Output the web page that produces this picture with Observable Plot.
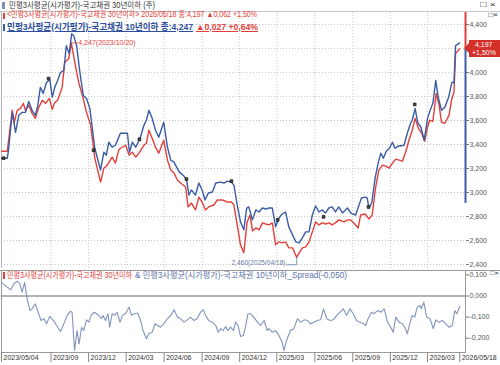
<!DOCTYPE html>
<html><head><meta charset="utf-8">
<script src="https://cdn.jsdelivr.net/npm/d3@7"></script>
<script src="https://cdn.jsdelivr.net/npm/@observablehq/plot@0.6"></script>
<style>
html,body{margin:0;padding:0;background:#fff;}
#wrap{position:relative;width:500px;height:365px;overflow:hidden;background:#fff;}
#wrap svg{position:absolute;left:0;}
.t{position:absolute;white-space:nowrap;line-height:1;transform-origin:0 50%;font-family:"Liberation Sans","Noto Sans CJK KR",sans-serif;}
.r{position:absolute;}
</style></head><body><div id="wrap"></div>
<script>
// ---------- data ----------
const titleText = "민평3사평균(시가평가)-국고채권 30년이하 (주)";
const seriesNames = ["민평3사평균(시가평가)-국고채권 30년이하", "민평3사평균(시가평가)-국고채권 10년이하"];
const lastDateLabel = "2026/05/18";
const redChange = 0.062, redPct = 1.50;
const blueChange = 0.027, bluePct = 0.64;

const redDates = ["2023-05-04","2023-05-18","2023-05-30","2023-06-04","2023-06-11","2023-06-19","2023-06-26","2023-07-01","2023-07-09","2023-07-17","2023-07-25","2023-08-02","2023-08-11","2023-08-19","2023-08-28","2023-09-04","2023-09-09","2023-09-17","2023-09-28","2023-10-04","2023-10-14","2023-10-20","2023-10-30","2023-11-07","2023-11-16","2023-11-26","2023-12-06","2023-12-16","2023-12-30","2024-01-07","2024-01-15","2024-01-27","2024-02-04","2024-02-12","2024-02-16","2024-02-29","2024-03-08","2024-03-16","2024-03-24","2024-04-01","2024-04-13","2024-04-19","2024-04-25","2024-05-03","2024-05-11","2024-05-19","2024-05-31","2024-06-09","2024-06-17","2024-06-25","2024-07-03","2024-07-11","2024-07-23","2024-07-29","2024-08-06","2024-08-16","2024-08-24","2024-09-01","2024-09-09","2024-09-17","2024-09-29","2024-10-08","2024-10-20","2024-11-01","2024-11-11","2024-11-17","2024-11-25","2024-12-03","2024-12-11","2024-12-19","2024-12-26","2025-01-01","2025-01-09","2025-01-17","2025-01-25","2025-02-02","2025-02-10","2025-02-18","2025-02-26","2025-03-06","2025-03-14","2025-03-22","2025-03-30","2025-04-08","2025-04-18","2025-04-24","2025-05-02","2025-05-10","2025-05-18","2025-05-26","2025-06-03","2025-06-11","2025-06-19","2025-06-27","2025-07-05","2025-07-13","2025-07-21","2025-07-29","2025-08-11","2025-08-19","2025-08-27","2025-09-08","2025-09-14","2025-09-20","2025-10-01","2025-10-10","2025-10-18","2025-10-26","2025-11-03","2025-11-12","2025-11-20","2025-11-28","2025-12-06","2025-12-14","2025-12-22","2025-12-30","2026-01-07","2026-01-15","2026-01-23","2026-01-30","2026-02-07","2026-02-15","2026-02-22","2026-03-01","2026-03-06","2026-03-14","2026-03-22","2026-03-29","2026-04-04","2026-04-12","2026-04-22","2026-04-29","2026-05-04","2026-05-08","2026-05-18"];
const redValues = [3.344,3.344,3.685,3.585,3.685,3.701,3.743,3.685,3.726,3.660,3.618,3.710,3.768,3.743,3.784,3.693,3.743,3.768,3.876,4.083,4.116,4.247,4.058,3.917,3.809,3.668,3.560,3.286,3.087,3.203,3.228,3.295,3.245,3.353,3.369,3.394,3.311,3.336,3.295,3.328,3.394,3.411,3.519,3.452,3.378,3.328,3.436,3.270,3.187,3.162,3.104,3.079,3.046,2.880,2.913,2.855,2.962,2.921,2.855,2.880,2.896,2.938,2.938,2.921,2.921,2.896,2.730,2.564,2.498,2.755,2.813,2.680,2.705,2.689,2.747,2.738,2.730,2.747,2.564,2.589,2.581,2.589,2.539,2.539,2.460,2.498,2.539,2.547,2.589,2.672,2.755,2.730,2.747,2.738,2.747,2.730,2.747,2.772,2.755,2.772,2.772,2.730,2.705,2.813,2.821,2.780,2.813,3.037,3.187,3.228,3.220,3.203,3.245,3.278,3.270,3.261,3.336,3.436,3.519,3.618,3.535,3.494,3.427,3.544,3.602,3.593,3.826,3.726,3.585,3.577,3.643,3.784,3.834,4.158,4.197];

const blueDates = ["2023-05-04","2023-05-18","2023-05-21","2023-05-30","2023-06-07","2023-06-15","2023-06-23","2023-07-01","2023-07-09","2023-07-17","2023-07-25","2023-07-31","2023-08-06","2023-08-13","2023-08-21","2023-08-29","2023-09-04","2023-09-10","2023-09-17","2023-09-24","2023-10-02","2023-10-08","2023-10-15","2023-10-21","2023-10-26","2023-11-02","2023-11-10","2023-11-18","2023-11-26","2023-12-04","2023-12-16","2023-12-30","2024-01-07","2024-01-13","2024-01-19","2024-01-27","2024-02-04","2024-02-16","2024-03-04","2024-03-09","2024-03-16","2024-03-24","2024-04-03","2024-04-13","2024-04-19","2024-04-25","2024-05-03","2024-05-11","2024-05-19","2024-05-31","2024-06-09","2024-06-17","2024-06-25","2024-07-01","2024-07-08","2024-07-19","2024-07-25","2024-07-31","2024-08-06","2024-08-16","2024-08-24","2024-09-01","2024-09-08","2024-09-16","2024-09-26","2024-10-04","2024-10-16","2024-10-24","2024-11-01","2024-11-11","2024-11-17","2024-11-25","2024-12-03","2024-12-11","2024-12-18","2024-12-23","2025-01-01","2025-01-09","2025-01-17","2025-01-25","2025-02-02","2025-02-10","2025-02-18","2025-02-26","2025-03-06","2025-03-14","2025-03-22","2025-03-30","2025-04-08","2025-04-16","2025-04-24","2025-05-02","2025-05-10","2025-05-18","2025-05-26","2025-06-03","2025-06-11","2025-06-19","2025-06-27","2025-07-05","2025-07-13","2025-07-21","2025-07-29","2025-08-07","2025-08-19","2025-08-27","2025-09-01","2025-09-08","2025-09-16","2025-09-22","2025-10-01","2025-10-06","2025-10-10","2025-10-17","2025-10-25","2025-11-02","2025-11-08","2025-11-14","2025-11-21","2025-11-29","2025-12-06","2025-12-12","2025-12-20","2026-01-03","2026-01-11","2026-01-19","2026-01-23","2026-01-30","2026-02-05","2026-02-13","2026-02-21","2026-03-01","2026-03-09","2026-03-14","2026-03-21","2026-03-27","2026-04-04","2026-04-12","2026-04-21","2026-04-29","2026-05-04","2026-05-08","2026-05-18"];
const blueValues = [3.286,3.286,3.353,3.668,3.502,3.643,3.668,3.668,3.759,3.685,3.643,3.726,3.876,3.826,3.917,3.942,3.793,3.876,3.934,4.000,4.017,4.224,4.158,4.324,4.307,4.224,4.000,3.809,3.784,3.701,3.369,3.187,3.336,3.311,3.419,3.378,3.394,3.494,3.494,3.336,3.419,3.378,3.444,3.560,3.602,3.685,3.618,3.519,3.461,3.585,3.378,3.270,3.253,3.212,3.170,3.137,3.112,2.979,3.021,2.979,3.079,3.021,2.938,2.996,3.004,3.079,3.087,3.079,3.095,3.087,3.062,2.896,2.755,2.689,2.871,2.880,2.772,2.855,2.838,2.871,2.863,2.871,2.871,2.714,2.788,2.821,2.838,2.714,2.647,2.589,2.581,2.622,2.672,2.672,2.813,2.888,2.838,2.855,2.830,2.871,2.880,2.838,2.880,2.830,2.871,2.830,2.821,2.813,2.896,2.954,2.962,2.954,2.871,2.913,3.120,3.253,3.328,3.286,3.344,3.369,3.419,3.369,3.386,3.394,3.494,3.577,3.602,3.701,3.585,3.544,3.436,3.618,3.701,3.743,3.934,3.793,3.685,3.710,3.793,3.917,3.917,4.224,4.247];

const spreadDates = ["2023-05-04","2023-05-18","2023-05-26","2023-06-03","2023-06-11","2023-06-17","2023-06-23","2023-06-29","2023-07-05","2023-07-12","2023-07-17","2023-07-25","2023-08-02","2023-08-08","2023-08-15","2023-08-21","2023-08-29","2023-09-08","2023-09-17","2023-09-24","2023-10-02","2023-10-10","2023-10-18","2023-10-22","2023-10-28","2023-11-03","2023-11-08","2023-11-14","2023-11-19","2023-11-26","2023-12-02","2023-12-07","2023-12-15","2023-12-26","2024-01-01","2024-01-05","2024-01-11","2024-01-17","2024-01-21","2024-01-27","2024-02-02","2024-02-08","2024-02-15","2024-02-21","2024-02-29","2024-03-08","2024-03-14","2024-03-20","2024-03-29","2024-04-05","2024-04-11","2024-04-19","2024-04-25","2024-05-03","2024-05-10","2024-05-17","2024-05-23","2024-05-31","2024-06-09","2024-06-17","2024-06-25","2024-07-03","2024-07-11","2024-07-19","2024-07-27","2024-08-04","2024-08-12","2024-08-20","2024-08-28","2024-09-04","2024-09-09","2024-09-17","2024-09-26","2024-10-04","2024-10-10","2024-10-16","2024-10-22","2024-10-28","2024-11-02","2024-11-09","2024-11-16","2024-11-21","2024-11-27","2024-12-03","2024-12-10","2024-12-15","2024-12-21","2024-12-27","2025-01-04","2025-01-13","2025-01-21","2025-01-29","2025-02-06","2025-02-10","2025-02-18","2025-02-26","2025-03-06","2025-03-14","2025-03-18","2025-03-26","2025-04-03","2025-04-11","2025-04-20","2025-04-28","2025-05-06","2025-05-14","2025-05-22","2025-05-30","2025-06-07","2025-06-15","2025-06-22","2025-06-30","2025-07-08","2025-07-16","2025-07-24","2025-08-01","2025-08-09","2025-08-17","2025-08-25","2025-09-02","2025-09-10","2025-09-18","2025-09-27","2025-10-02","2025-10-08","2025-10-16","2025-10-22","2025-10-31","2025-11-08","2025-11-16","2025-11-24","2025-12-02","2025-12-08","2025-12-14","2025-12-22","2025-12-30","2026-01-05","2026-01-11","2026-01-17","2026-01-23","2026-01-29","2026-02-04","2026-02-11","2026-02-14","2026-02-20","2026-02-27","2026-03-07","2026-03-15","2026-03-21","2026-03-29","2026-04-06","2026-04-14","2026-04-22","2026-04-30","2026-05-06","2026-05-11","2026-05-18"];
const spreadValues = [0.065,0.042,0.029,0.058,0.070,0.061,0.018,0.065,-0.013,-0.069,-0.061,-0.037,-0.084,-0.116,-0.108,-0.132,-0.097,-0.119,-0.148,-0.168,-0.132,-0.092,-0.072,-0.077,-0.258,-0.164,-0.227,-0.148,-0.164,-0.113,-0.124,-0.092,-0.077,-0.092,-0.108,-0.092,-0.116,-0.084,-0.148,-0.084,-0.092,-0.077,-0.124,-0.092,-0.082,-0.053,-0.092,-0.084,-0.082,-0.116,-0.164,-0.203,-0.179,-0.172,-0.132,-0.140,-0.148,-0.132,-0.108,-0.092,-0.065,-0.100,-0.108,-0.124,-0.113,-0.100,-0.116,-0.108,-0.077,-0.065,-0.092,-0.116,-0.124,-0.140,-0.172,-0.155,-0.164,-0.145,-0.164,-0.148,-0.164,-0.124,-0.140,-0.192,-0.187,-0.148,-0.084,-0.084,-0.100,-0.124,-0.140,-0.116,-0.164,-0.155,-0.172,-0.164,-0.187,-0.219,-0.258,-0.203,-0.164,-0.155,-0.108,-0.124,-0.113,-0.116,-0.132,-0.124,-0.116,-0.113,-0.061,-0.108,-0.116,-0.113,-0.092,-0.077,-0.061,-0.092,-0.061,-0.084,-0.116,-0.124,-0.132,-0.140,-0.108,-0.077,-0.084,-0.069,-0.077,-0.061,-0.124,-0.148,-0.172,-0.100,-0.124,-0.132,-0.148,-0.179,-0.132,-0.092,-0.100,-0.053,-0.045,-0.061,-0.029,-0.100,-0.108,-0.155,-0.113,-0.124,-0.116,-0.132,-0.148,-0.140,-0.069,-0.084,-0.050];

const markerDates = ["2023-05-09","2023-08-26","2023-12-13","2024-04-02","2024-07-25","2024-11-11","2025-03-03","2025-06-22","2025-10-09","2026-01-29"];
const markerValues = [3.286,3.950,3.353,3.444,3.112,3.095,2.772,2.797,2.880,3.734];

const yTicks = [2.4,2.6,2.8,3.0,3.2,3.4,3.6,3.8,4.0,4.2,4.4];
const spreadTicks = [0.1,0,-0.1,-0.2];
const xTickDates = ["2023-05-04","2023-09-01","2023-12-01","2024-03-01","2024-06-01","2024-09-01","2024-12-01","2025-03-01","2025-06-01","2025-09-01","2025-12-01","2026-03-01","2026-05-18"];
const xTickLabels = ["2023/05/04","2023/09","2023/12","2024/03","2024/06","2024/09","2024/12","2025/03","2025/06","2025/09","2025/12","2026/03","2026/05/18"];
const gridDates = ["2023-09-01","2023-12-01","2024-03-01","2024-06-01","2024-09-01","2024-12-01","2025-03-01","2025-06-01","2025-09-01","2025-12-01","2026-03-01"];
const xStart = "2023-05-04", xEnd = "2026-06-01";
const yRange = [2.367, 4.5];
const spreadRange = [-0.268, 0.121];
const axisBarLow = 2.91;

// ---------- build ----------
const wrap = document.getElementById("wrap");
const RED = "#e2403a", BLUE = "#3a5ba6", SPREAD = "#8294bc";
const loc = d3.formatLocale({decimal:",", thousands:".", grouping:[3], currency:["",""], minus:"-"});
const f3 = loc.format(".3f"), f2 = loc.format(".2f");
const parse = d3.utcParse("%Y-%m-%d");
const fmtDay = d3.utcFormat("%Y/%m/%d");
const rows = (ds, vs) => ds.map((d, i) => ({date: parse(d), value: vs[i]}));
const red = rows(redDates, redValues);
const blue = rows(blueDates, blueValues);
const spread = rows(spreadDates, spreadValues);
const markers = rows(markerDates, markerValues);
const xDomain = [parse(xStart), parse(xEnd)];
const labelMap = new Map(xTickDates.map((d, i) => [+parse(d), xTickLabels[i]]));
const redMax = d3.greatest(red, d => d.value);
const redMin = d3.least(red, d => d.value);
const redLast = red[red.length - 1], blueLast = blue[blue.length - 1];
const spreadLast = spread[spread.length - 1];
const numFont = "'Liberation Sans', Arial, sans-serif";
// tick labels hidden behind the last-value box
const yLabelTicks = yTicks.filter(t => Math.abs(t - redLast.value) > 0.07);

const minLeader = [
  {date: redMin.date, value: redMin.value},
  {date: redMin.date, value: redMin.value - 0.062},
  {date: d3.utcDay.offset(redMin.date, -24), value: redMin.value - 0.062}
];

const main = Plot.plot({
  width: 500, height: 256,
  marginTop: 0, marginRight: 35, marginBottom: 0, marginLeft: 1,
  style: {background: "transparent", overflow: "visible", fontFamily: numFont, fontSize: "7px"},
  x: {type: "utc", domain: xDomain, axis: null},
  y: {domain: yRange, axis: null},
  marks: [
    Plot.gridY(yTicks, {stroke: "#c4c4c4", strokeOpacity: 1, strokeDasharray: "1,2"}),
    Plot.gridX(gridDates.map(parse), {stroke: "#c4c4c4", strokeOpacity: 1, strokeDasharray: "1,2"}),
    Plot.ruleX([xDomain[0]], {stroke: "#aab4c6"}),
    Plot.axisY(yLabelTicks, {anchor: "right", label: null, tickSize: 3, tickPadding: 1, tickFormat: f3, fill: "#555", stroke: "#777"}),
    Plot.line(red, {x: "date", y: "value", stroke: RED, strokeWidth: 1.4}),
    Plot.line(blue, {x: "date", y: "value", stroke: BLUE, strokeWidth: 1.4}),
    Plot.dot(markers, {x: "date", y: "value", symbol: "square", r: 1.5, fill: "#555", stroke: "#111", strokeWidth: 0.8}),
    Plot.link([redMax], {x1: "date", y1: "value", x2: d => d3.utcDay.offset(d.date, 16), y2: "value", stroke: RED, strokeWidth: 0.8}),
    Plot.text([redMax], {x: d => d3.utcDay.offset(d.date, 17), y: "value", text: d => `${f3(d.value)}(${fmtDay(d.date)})`, textAnchor: "start", fill: RED, fontSize: 7}),
    Plot.line(minLeader, {x: "date", y: "value", stroke: "#6a7cab", strokeWidth: 0.8}),
    Plot.text([minLeader[2]], {x: d => d3.utcDay.offset(d.date, -3), y: "value", text: () => `${f3(redMin.value)}(${fmtDay(redMin.date)})`, textAnchor: "end", fill: "#6a7cab", fontSize: 6.6, dy: -2}),
    Plot.ruleX([xDomain[1]], {y1: yRange[1], y2: redLast.value, stroke: RED, strokeWidth: 2}),
    Plot.ruleX([xDomain[1]], {y1: redLast.value, y2: axisBarLow, stroke: BLUE, strokeWidth: 2})
  ]
});
main.style.top = "12px";
wrap.appendChild(main);

const lower = Plot.plot({
  width: 500, height: 95,
  marginTop: 0, marginRight: 35, marginBottom: 13, marginLeft: 1,
  style: {background: "transparent", overflow: "visible", fontFamily: numFont, fontSize: "7px"},
  x: {type: "utc", domain: xDomain, axis: null},
  y: {domain: spreadRange, axis: null},
  marks: [
    Plot.frame({stroke: "#9a9a9a"}),
    Plot.ruleY([0], {stroke: "#666", strokeWidth: 1}),
    Plot.line(spread, {x: "date", y: "value", stroke: SPREAD, strokeWidth: 1.1}),
    Plot.axisY(spreadTicks, {anchor: "right", label: null, tickSize: 3, tickPadding: 1, tickFormat: f3, fill: "#555", stroke: "#777"}),
    Plot.axisX(xTickDates.map(parse), {anchor: "bottom", label: null, tickSize: 10, tickFormat: () => "", stroke: "#888"}),
    Plot.axisX(xTickDates.map(parse), {anchor: "bottom", label: null, tickSize: 0, tickPadding: 3, textAnchor: "start", dx: 2, tickFormat: d => labelMap.get(+d), fill: "#333"})
  ]
});
lower.style.top = "270px";
wrap.appendChild(lower);

// ---------- html overlays ----------
function box(x, y, w, h, bg) {
  const el = document.createElement("div");
  el.className = "r";
  Object.assign(el.style, {left: x + "px", top: y + "px", width: w + "px", height: h + "px", background: bg});
  wrap.appendChild(el);
  return el;
}
function txt(s, x, yc, size, color, w, extra = {}) {
  const el = document.createElement("div");
  el.className = "t";
  el.textContent = s;
  Object.assign(el.style, {left: x + "px", top: (yc - size / 2) + "px", fontSize: size + "px", color: color, height: size + "px"}, extra);
  wrap.appendChild(el);
  if (w) {
    const a = el.getBoundingClientRect().width;
    el.style.transform = `scaleX(${w / a})`;
  }
  return el;
}

// title bar
box(0, 11, 500, 1, "#c8c8c8");
box(2, 2, 3, 7, "#7d8fb5");
txt(titleText, 9, 5.5, 8.5, "#333", 146);
txt("□ ×", 480, 5.3, 8, "#333", 16);

// main legend
box(3, 12.5, 2, 6, RED);
txt(`<${seriesNames[0]}> ${lastDateLabel} 종:${f3(redLast.value)} ▲${f3(redChange)} +${f2(redPct)}%`, 7, 15.5, 8.2, RED, 250);
box(3, 23.5, 2, 7, BLUE);
txt(`${seriesNames[1]} 종:${f3(blueLast.value)}`, 7, 27, 8.8, "#2d4f9e", 186, {fontWeight: "bold", textDecoration: "underline"});
txt(`▲${f3(blueChange)} +${f2(bluePct)}%`, 196, 27, 8.8, RED, 62, {fontWeight: "bold", textDecoration: "underline"});
txt("□×", 488, 15.5, 6.5, "#333", 10);

// last value box
const yLast = 12 + main.scale("y").apply(redLast.value);
const tri = document.createElement("div");
Object.assign(tri.style, {position: "absolute", left: "464px", top: (yLast - 5) + "px", width: 0, height: 0,
  borderTop: "5px solid transparent", borderBottom: "5px solid transparent", borderRight: "5px solid " + "#d4302a"});
wrap.appendChild(tri);
box(469, yLast - 8.5, 31, 17, "#d4302a");
txt(f3(redLast.value), 475, yLast - 4.2, 7, "#fff", null, {fontFamily: numFont});
txt(`+${f2(redPct)}%`, 472, yLast + 4.2, 7, "#fff", null, {fontFamily: numFont});

// lower panel
box(0, 269.5, 500, 1, "#999");
box(3, 271.5, 2, 7, RED);
txt(seriesNames[0], 7, 275, 8.5, RED, 125);
txt(`& ${seriesNames[1]}_Spread(${f3(spreadLast.value)})`, 135, 275, 8.5, "#5c72a8", 212);
txt("□×", 490, 273, 6, "#333", 9);
</script>
</body></html>
